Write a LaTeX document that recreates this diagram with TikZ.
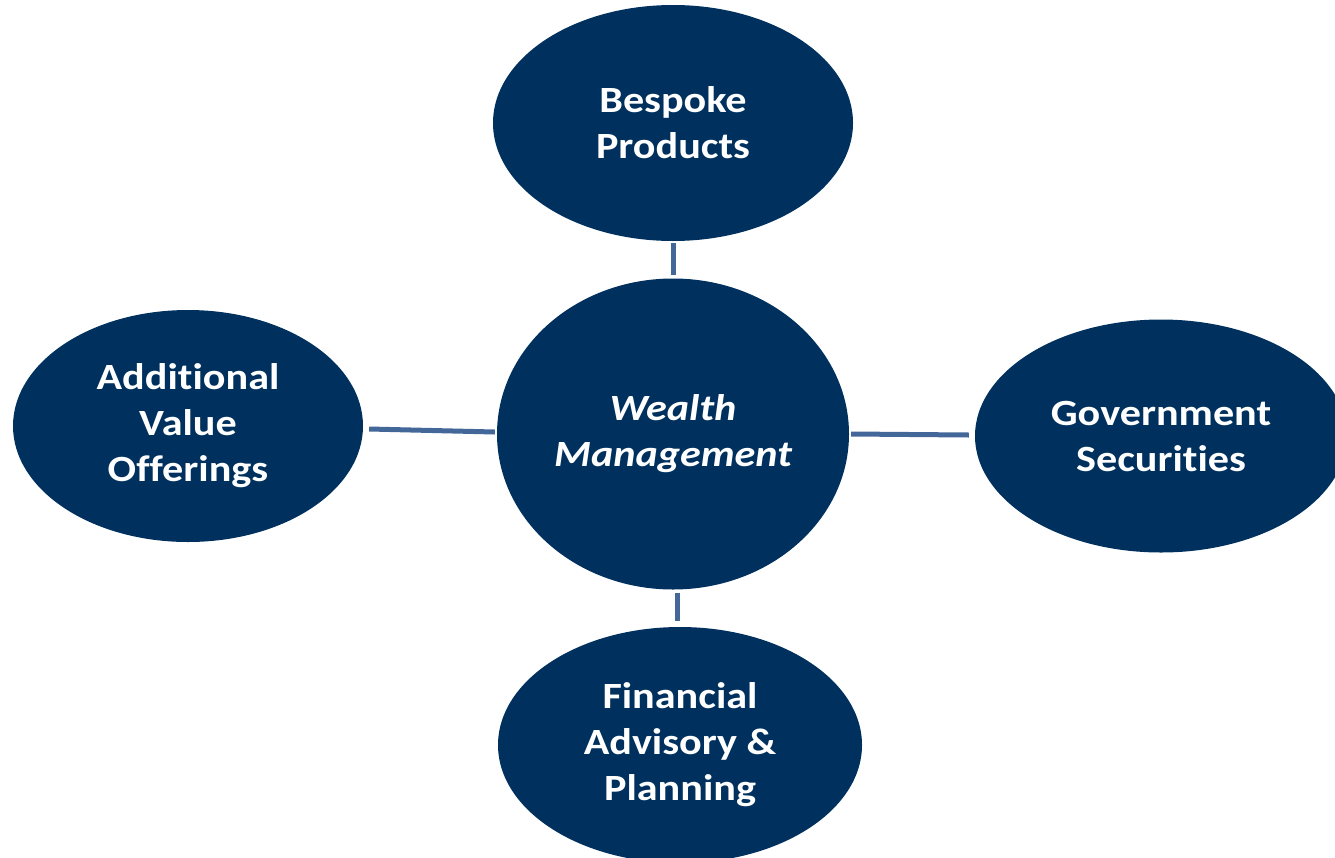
\documentclass[tikz,border=0pt]{standalone}
\usepackage{fontspec}
\setmainfont{Carlito}[Ligatures={NoCommon}, FakeStretch=1.14]
\usetikzlibrary{shapes.geometric,calc}
\definecolor{navy}{RGB}{0,49,94}
\definecolor{linkblue}{RGB}{68,103,154}
\tikzset{
  bubble/.style={ellipse, fill=navy, draw=none, inner sep=0pt, text=white,
    align=center, font=\fontsize{37}{46}\selectfont\bfseries},
  link/.style={draw=linkblue, line width=5pt}
}
\begin{document}
\begin{tikzpicture}[x=1pt,y=-1pt]
\useasboundingbox (0,0) rectangle (1335,857);
\clip (0,0) rectangle (1335,857);
\node[bubble, minimum width=360pt, minimum height=236pt] (top) at (673,123) {Bespoke\\Products};
\node[bubble, minimum width=352pt, minimum height=311pt, font=\fontsize{37}{46}\selectfont\bfseries\itshape] (center) at (673,434) {Wealth\\Management};
\node[bubble, minimum width=350pt, minimum height=232pt] (left) at (188,426) {Additional\\Value\\Offerings};
\node[bubble, minimum width=372pt, minimum height=233pt] (right) at (1161,436) {Government\\Securities};
\node[bubble, minimum width=364pt, minimum height=236pt] (bottom) at (680,745) {Financial\\Advisory \&\\Planning};
\draw[link] ($(top.south)+(0,2)$) -- ($(center.north)+(0,-3)$);
\draw[link] ($(left.east)+(6,3)$) -- ($(center.west)+(-2,-2)$);
\draw[link] ($(center.east)+(2,0)$) -- ($(right.west)+(-6,-1)$);
\draw[link] ($(center.south)+(4,3)$) -- ($(bottom.north)+(-3,-6)$);
\end{tikzpicture}
\end{document}
